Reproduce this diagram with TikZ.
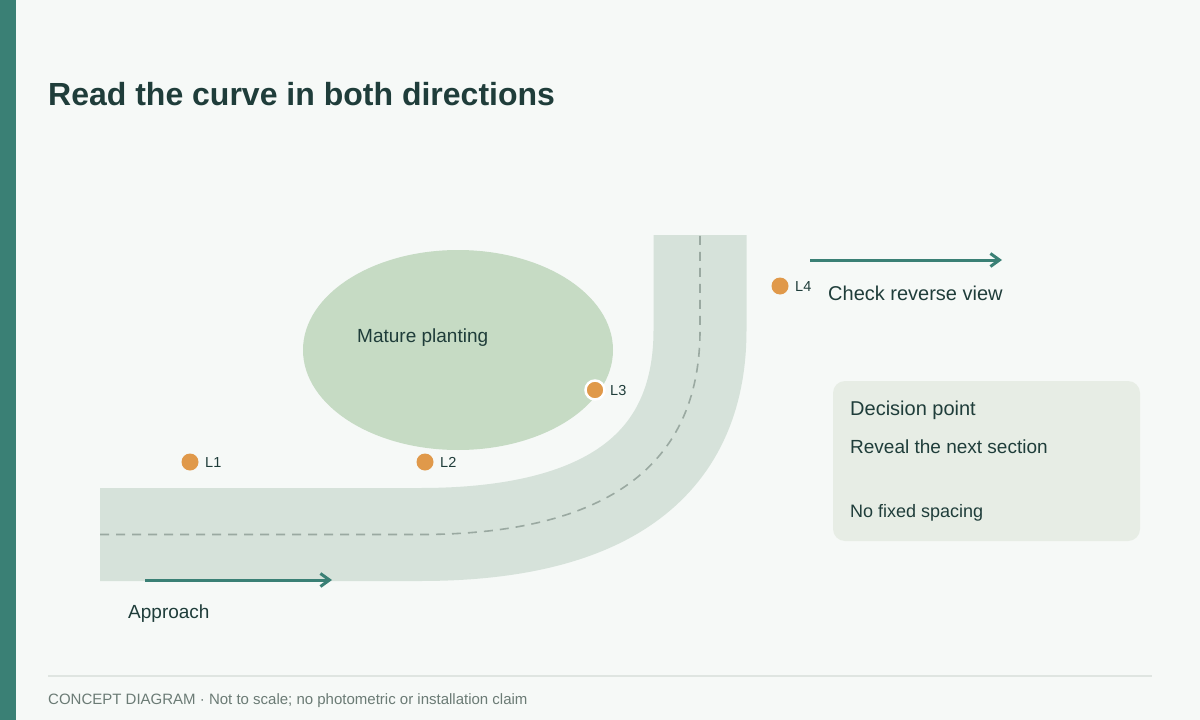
\documentclass[tikz,border=0pt]{standalone}
\usepackage{fontspec}
\setmainfont{Liberation Sans}
\usetikzlibrary{arrows.meta,shapes.geometric}
\definecolor{bg}{HTML}{F6F9F7}
\definecolor{bar}{HTML}{3A8075}
\definecolor{tealc}{HTML}{3A8075}
\definecolor{ink}{HTML}{1F3D3A}
\definecolor{roadc}{HTML}{D6E2DA}
\definecolor{dashgray}{HTML}{9AA9A1}
\definecolor{plant}{HTML}{C6DBC4}
\definecolor{dotc}{HTML}{E0994A}
\definecolor{boxfill}{HTML}{E7EDE5}
\definecolor{foot}{HTML}{6B7B75}
\definecolor{rulec}{HTML}{DFE5E1}
\tikzset{
  lbl/.style={font=\fontsize{19}{22}\selectfont, text=ink, inner sep=0pt, anchor=base west},
  small/.style={font=\fontsize{14.5}{17}\selectfont, text=ink, inner sep=0pt, anchor=base west},
  lamp/.style={circle, fill=dotc, minimum size=17pt, inner sep=0pt},
  dirarrow/.style={draw=tealc, line width=3pt, -{Straight Barb[length=9pt,width=13pt,line width=3pt]}},
}
\begin{document}
\begin{tikzpicture}[x=1pt,y=-1pt]
\useasboundingbox (0,0) rectangle (1200,720);
\fill[bg] (0,0) rectangle (1200,720);
\fill[bar] (0,0) rectangle (16,720);
% title
\node[font=\fontsize{32}{36}\selectfont\bfseries, text=ink, inner sep=0pt, anchor=base west] (title) at (48,105) {Read the curve in both directions};
% road
\draw[roadc, line width=93pt] (100,534.5) -- (420,534.5) .. controls (600,534.5) and (700,470) .. (700,330) -- (700,235);
\draw[dashgray, line width=1.6pt, dash pattern=on 9pt off 7pt] (100,534.5) -- (420,534.5) .. controls (600,534.5) and (700,470) .. (700,330) -- (700,235);
% planting
\node[ellipse, fill=plant, minimum width=310pt, minimum height=200pt, inner sep=0pt] (plant) at (458,350) {};
\node[lbl] (planttxt) at (357,342) {Mature planting};
% lamps
\node[lamp] (l1) at (190,462) {};
\node[small] (l1t) at (205,467.5) {L1};
\node[lamp] (l2) at (425,462) {};
\node[small] (l2t) at (440,467.5) {L2};
\node[lamp, draw=white, line width=2.5pt, minimum size=19pt] (l3) at (595,390) {};
\node[small] (l3t) at (610,395.5) {L3};
\node[lamp] (l4) at (780,286) {};
\node[small] (l4t) at (795,291.5) {L4};
% arrows
\coordinate (a1s) at (145,580);
\coordinate (a1e) at (332,580);
\draw[dirarrow] (a1s) -- (a1e);
\node[lbl] (appr) at (128,618) {Approach};
\coordinate (a2s) at (810,260);
\coordinate (a2e) at (1002,260);
\draw[dirarrow] (a2s) -- (a2e);
\node[lbl, font=\fontsize{20}{24}\selectfont] (rev) at (828,300) {Check reverse view};
% box
\fill[boxfill, rounded corners=12pt] (833,381) rectangle (1140,541);
\node[lbl, font=\fontsize{20}{24}\selectfont] (dp) at (850,415) {Decision point};
\node[lbl] (rn) at (850,453) {Reveal the next section};
\node[lbl, font=\fontsize{18}{22}\selectfont] (nf) at (850,517) {No fixed spacing};
% footer
\draw[rulec, line width=1.5pt] (48,676) -- (1152,676);
\node[font=\fontsize{15}{18}\selectfont, text=foot, inner sep=0pt, anchor=base west] (foot) at (48,704) {CONCEPT DIAGRAM · Not to scale; no photometric or installation claim};
\end{tikzpicture}
\end{document}
